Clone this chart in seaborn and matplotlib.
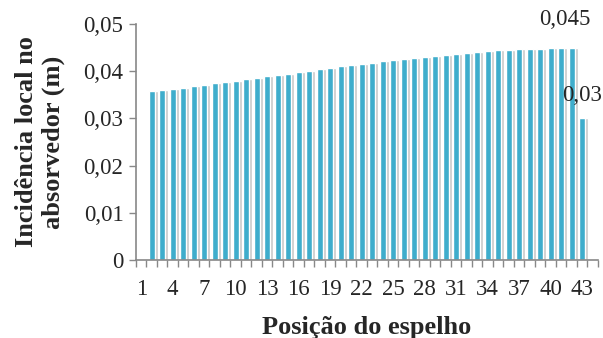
import numpy as np
import pandas as pd
import seaborn as sns
import matplotlib.pyplot as plt

# posições 1..44 (a posição 1 e 44 ficam vazias)
positions = list(range(1, 45))
bar_pos = list(range(2, 44))
incidence = [0.0358, 0.0360, 0.0363, 0.0365, 0.0368, 0.0371, 0.0374, 0.0377, 0.0380, 0.0383,
             0.0386, 0.0389, 0.0392, 0.0395, 0.0398, 0.0401, 0.0404, 0.0407, 0.0410, 0.0413,
             0.0416, 0.0418, 0.0421, 0.0424, 0.0426, 0.0429, 0.0431, 0.0433, 0.0435, 0.0437,
             0.0439, 0.0441, 0.0442, 0.0444, 0.0445, 0.0446, 0.0447, 0.0448, 0.0449, 0.0450,
             0.0450, 0.030]
labelled = {42: "0,045", 43: "0,03"}
yticks = [0, 0.01, 0.02, 0.03, 0.04, 0.05]
ytick_labels = ["0", "0,01", "0,02", "0,03", "0,04", "0,05"]

df = pd.DataFrame({"pos": [str(p) for p in bar_pos], "val": incidence})
order = [str(p) for p in positions]

sns.set_style("white")
plt.rcParams['font.family'] = ['Liberation Serif', 'DejaVu Serif']

fig = plt.figure(figsize=(6.03, 3.38), dpi=100)
ax = fig.add_axes([0.2255, 0.2308, 0.7662, 0.6982])

# sombra cinzenta atrás das barras
idx = [order.index(p) for p in df["pos"]]
ax.bar(np.array(idx) + 0.25, df["val"], width=0.6, color="#c9c9c9", zorder=1)

sns.barplot(data=df, x="pos", y="val", order=order, color="#3fadcc",
            saturation=1, width=0.55, ax=ax, zorder=2)

label_offsets = {42: (-5, 20), 43: (0, 16.5)}
for p, txt in labelled.items():
    i = order.index(str(p))
    v = incidence[bar_pos.index(p)]
    ax.annotate(txt, (i, v), xytext=label_offsets[p], textcoords="offset points",
                ha="center", va="center", fontsize=16.5)

ax.set_xlim(-0.5, len(order) - 0.5)
ax.set_ylim(0, 0.05)
ax.set_yticks(yticks)
ax.set_yticklabels(ytick_labels)

ax.set_xticks(range(0, len(order), 3))
ax.set_xticklabels([order[i] for i in range(0, len(order), 3)])
ax.set_xticks(np.arange(-0.5, len(order), 1), minor=True)
ax.tick_params(axis="x", which="major", length=0, pad=13.5, labelsize=16.5)
ax.tick_params(axis="x", which="minor", length=5, color="#888888", width=1)
ax.tick_params(axis="y", length=5, color="#888888", width=1, labelsize=16.5, pad=4)
ax.tick_params(left=True, bottom=True, which="both")

for s in ["top", "right"]:
    ax.spines[s].set_visible(False)
for s in ["left", "bottom"]:
    ax.spines[s].set_color("#888888")
    ax.spines[s].set_linewidth(1.2)

ax.set_xlabel("Posição do espelho", fontsize=19, fontweight="bold", labelpad=12)
ax.set_ylabel("Incidência local no\nabsorvedor (m)", fontsize=19, fontweight="bold", labelpad=13)

fig.savefig("out.png", dpi=100)
